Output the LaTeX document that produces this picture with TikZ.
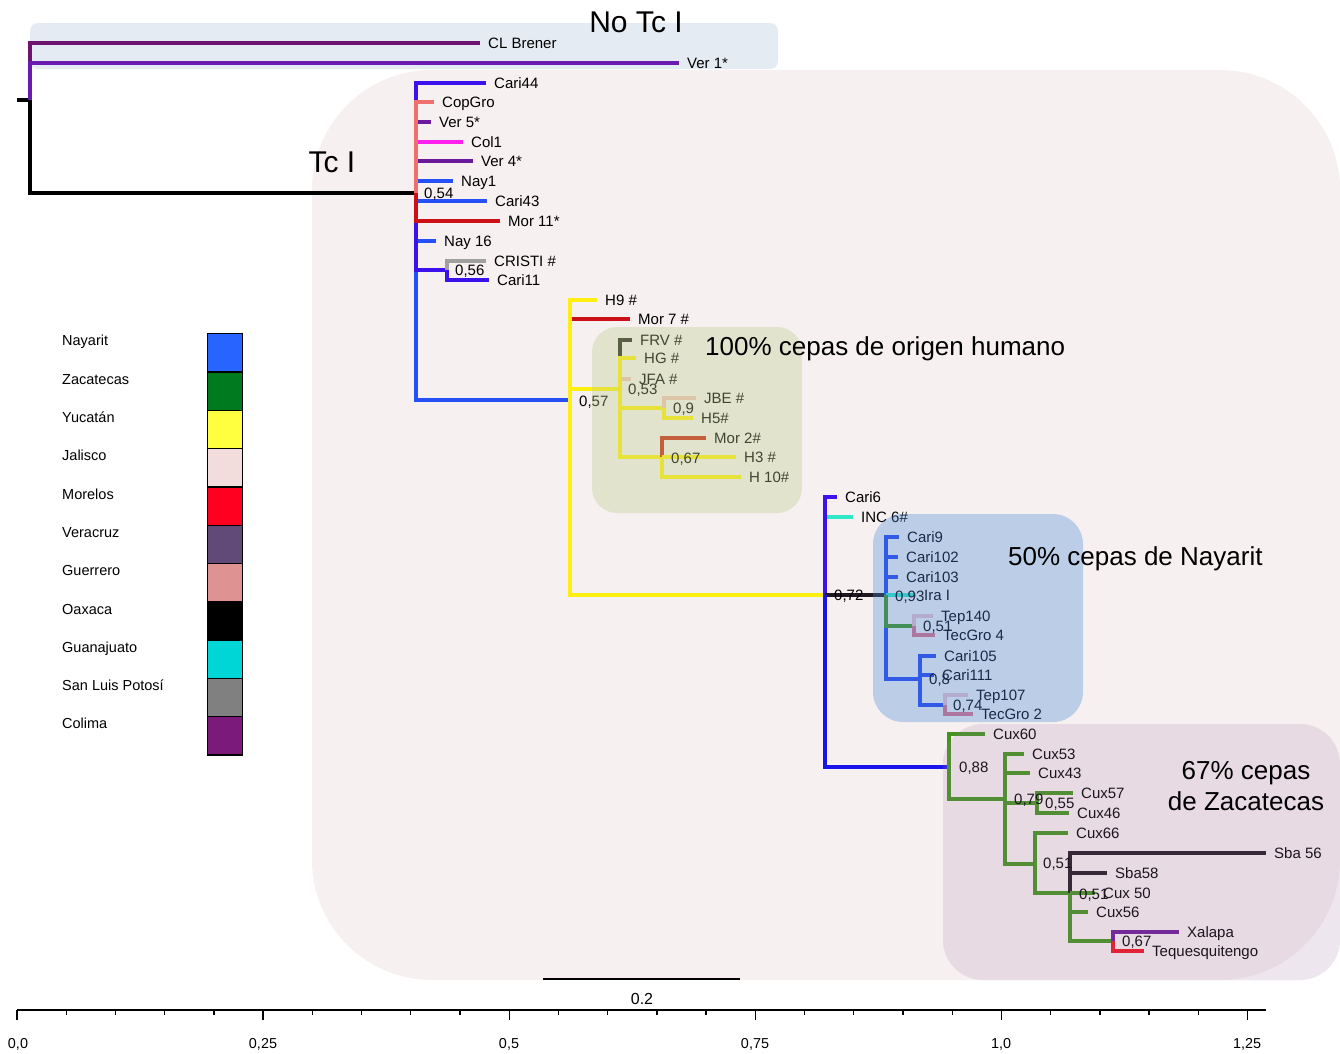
\documentclass[tikz,border=0pt]{standalone}
\usepackage{fontspec}
\setmainfont{Liberation Sans}
\definecolor{bgpink}{RGB}{247,240,240}
\definecolor{notcbox}{RGB}{229,235,243}
\definecolor{cbluev}{RGB}{58,18,238}
\definecolor{cblue}{RGB}{36,80,245}
\definecolor{cblueD}{RGB}{26,20,236}
\definecolor{csalmon}{RGB}{240,112,112}
\definecolor{cpurple}{RGB}{106,26,154}
\definecolor{cclb}{RGB}{110,20,112}
\definecolor{cver}{RGB}{106,28,176}
\definecolor{cmagenta}{RGB}{255,32,240}
\definecolor{cred}{RGB}{204,16,24}
\definecolor{cgray}{RGB}{160,160,160}
\definecolor{cyellow}{RGB}{255,238,16}
\definecolor{cdark}{RGB}{40,40,32}
\definecolor{cpale}{RGB}{240,196,184}
\definecolor{cbrick}{RGB}{200,40,20}
\definecolor{cturq}{RGB}{48,232,200}
\definecolor{cnblue}{RGB}{40,70,240}
\definecolor{cgreen}{RGB}{66,148,28}
\definecolor{cpaleb}{RGB}{236,190,200}
\definecolor{cguer}{RGB}{224,110,130}
\definecolor{cblack}{RGB}{32,24,32}
\definecolor{cbright}{RGB}{240,16,32}
% overlay tints for the highlighted groups
\definecolor{ovgreen}{RGB}{186,204,137}
\definecolor{ovblue}{RGB}{70,135,215}
\definecolor{ovpurple}{RGB}{160,120,165}
% key colours
\definecolor{kNay}{RGB}{40,100,255}
\definecolor{kZac}{RGB}{0,122,30}
\definecolor{kYuc}{RGB}{255,255,64}
\definecolor{kJal}{RGB}{242,220,220}
\definecolor{kMor}{RGB}{255,0,32}
\definecolor{kVer}{RGB}{98,74,120}
\definecolor{kGue}{RGB}{222,146,146}
\definecolor{kOax}{RGB}{0,0,0}
\definecolor{kGua}{RGB}{0,214,214}
\definecolor{kSlp}{RGB}{128,128,128}
\definecolor{kCol}{RGB}{124,26,124}
\tikzset{
  br/.style={line width=3.4pt, line join=miter, line cap=butt},
  leaf/.style={anchor=west, inner xsep=8pt, inner ysep=0pt, text height=10.74pt, text depth=0pt,
    font=\fontsize{15}{18}\selectfont},
  suplbl/.style={anchor=west, inner sep=0pt, text height=10.74pt, text depth=0pt,
    font=\fontsize{15}{18}\selectfont},
  bigtxt/.style={inner sep=0pt, text height=18.6pt, text depth=0pt, font=\fontsize{26}{30}\selectfont},
  cladetxt/.style={inner sep=0pt, text height=21.5pt, text depth=0pt, font=\fontsize{30}{34}\selectfont},
  keytxt/.style={anchor=west, inner sep=0pt, text height=10.4pt, text depth=0pt, font=\fontsize{14.5}{17}\selectfont},
  keybox/.style={draw=black, line width=1.4pt, minimum width=35pt, minimum height=38.3pt, inner sep=0pt, anchor=north west},
  axistxt/.style={inner sep=0pt, text height=10.3pt, text depth=0pt, font=\fontsize{14.4}{16}\selectfont},
}
\newcommand\edge[3]{\draw[br,#1] (#2) |- (#3);}
\begin{document}
\begin{tikzpicture}[x=1pt,y=-1pt]
\useasboundingbox (0,0) rectangle (1340,1053);
\fill[white] (0,0) rectangle (1340,1053);

% backgrounds
\fill[bgpink, rounded corners=120pt] (312,70) rectangle (1340,980);
\fill[notcbox, rounded corners=8pt] (30,23) rectangle (778,69);

% internal nodes
\coordinate (stub) at (17,100);
\coordinate (root) at (30,100);
\coordinate (A) at (416,193);
\coordinate (cri) at (447,270);
\coordinate (B) at (570,400);
\coordinate (C) at (620,389);
\coordinate (E) at (664,408);
\coordinate (F) at (662,457);
\coordinate (D) at (825,595);
\coordinate (G) at (886,595);
\coordinate (I) at (914,626);
\coordinate (J) at (920,679);
\coordinate (K) at (945,705);
\coordinate (H) at (949,767);
\coordinate (L) at (1005,799);
\coordinate (M) at (1037,803);
\coordinate (N) at (1035,864);
\coordinate (O) at (1070,893);
\coordinate (P) at (1113,941);

% leaves
\node[leaf] (clb) at (480,43) {CL Brener};
\node[leaf] (ver1) at (679,63) {Ver 1*};
\node[leaf] (cari44) at (486,83) {Cari44};
\node[leaf] (copgro) at (434,102) {CopGro};
\node[leaf] (ver5) at (431,122) {Ver 5*};
\node[leaf] (col1) at (463,142) {Col1};
\node[leaf] (ver4) at (473,161) {Ver 4*};
\node[leaf] (nay1) at (453,181) {Nay1};
\node[leaf] (cari43) at (487,201) {Cari43};
\node[leaf] (mor11) at (500,221) {Mor 11*};
\node[leaf] (nay16) at (436,241) {Nay 16};
\node[leaf] (cristi) at (486,261) {CRISTI \#};
\node[leaf] (cari11) at (489,280) {Cari11};
\node[leaf] (h9) at (597,300) {H9 \#};
\node[leaf] (mor7) at (630,319) {Mor 7 \#};
\node[leaf] (frv) at (632,340) {FRV \#};
\node[leaf] (hg) at (636,358) {HG \#};
\node[leaf] (jfa) at (631,379) {JFA \#};
\node[leaf] (jbe) at (696,398) {JBE \#};
\node[leaf] (h5) at (693,418) {H5\#};
\node[leaf] (mor2) at (706,438) {Mor 2\#};
\node[leaf] (h3) at (736,457) {H3 \#};
\node[leaf] (h10) at (741,477) {H 10\#};
\node[leaf] (cari6) at (837,497) {Cari6};
\node[leaf] (inc6) at (853,517) {INC 6\#};
\node[leaf] (cari9) at (899,537) {Cari9};
\node[leaf] (cari102) at (898,557) {Cari102};
\node[leaf] (cari103) at (898,577) {Cari103};
\node[leaf] (ira) at (916,595) {Ira I};
\node[leaf] (tep140) at (933,616) {Tep140};
\node[leaf] (tecgro4) at (935,635) {TecGro 4};
\node[leaf] (cari105) at (936,656) {Cari105};
\node[leaf] (cari111) at (934,675) {Cari111};
\node[leaf] (tep107) at (968,695) {Tep107};
\node[leaf] (tecgro2) at (973,714) {TecGro 2};
\node[leaf] (cux60) at (985,734) {Cux60};
\node[leaf] (cux53) at (1024,754) {Cux53};
\node[leaf] (cux43) at (1030,773) {Cux43};
\node[leaf] (cux57) at (1073,793) {Cux57};
\node[leaf] (cux46) at (1069,813) {Cux46};
\node[leaf] (cux66) at (1068,833) {Cux66};
\node[leaf] (sba56) at (1266,853) {Sba 56};
\node[leaf] (sba58) at (1107,873) {Sba58};
\node[leaf] (cux50) at (1095,893) {Cux 50};
\node[leaf] (cux56) at (1088,912) {Cux56};
\node[leaf] (xalapa) at (1179,932) {Xalapa};
\node[leaf] (teques) at (1144,951) {Tequesquitengo};

% branches
\draw[br,black] (stub) -- (root);
\edge{cclb}{root}{clb.west}
\edge{cver}{root}{ver1.west}
\edge{black}{root}{A}

\edge{cpurple}{A}{ver5.west}
\edge{cmagenta}{A}{col1.west}
\edge{cpurple}{A}{ver4.west}
\edge{cblue}{A}{nay1.west}
\edge{cblue}{A}{cari43.west}
\edge{cbluev}{A}{cari44.west}
\edge{csalmon}{A}{copgro.west}
\edge{cblue}{A}{nay16.west}
\edge{cblue}{A}{B}
\edge{cbluev}{A}{cri}
\edge{cred}{A}{mor11.west}
\edge{cgray}{cri}{cristi.west}
\edge{cbluev}{cri}{cari11.west}

\edge{cred}{B}{mor7.west}
\edge{cyellow}{B}{h9.west}
\edge{cyellow}{B}{C}
\edge{cyellow}{B}{D}

\edge{cpale}{C}{jfa.west}
\edge{cdark}{C}{frv.west}
\edge{cyellow}{C}{hg.west}
\edge{cyellow}{C}{E}
\edge{cyellow}{C}{F}
\edge{cpale}{E}{jbe.west}
\edge{cyellow}{E}{h5.west}
\edge{cbrick}{F}{mor2.west}
\edge{cyellow}{F}{h3.west}
\edge{cyellow}{F}{h10.west}

\edge{cturq}{D}{inc6.west}
\edge{cbluev}{D}{cari6.west}
\edge{cblack}{D}{G}
\edge{cblueD}{D}{H}

\edge{cnblue}{G}{cari9.west}
\edge{cnblue}{G}{cari102.west}
\edge{cnblue}{G}{cari103.west}
\edge{cturq}{G}{ira.west}
\edge{cnblue}{G}{J}
\edge{cgreen}{G}{I}
\edge{cpaleb}{I}{tep140.west}
\edge{cguer}{I}{tecgro4.west}
\edge{cnblue}{J}{cari105.west}
\edge{cnblue}{J}{cari111.west}
\edge{cnblue}{J}{K}
\edge{cpaleb}{K}{tep107.west}
\edge{cguer}{K}{tecgro2.west}

\edge{cgreen}{H}{cux60.west}
\edge{cgreen}{H}{L}
\edge{cgreen}{L}{cux53.west}
\edge{cgreen}{L}{cux43.west}
\edge{cgreen}{L}{M}
\edge{cgreen}{L}{N}
\edge{cgreen}{M}{cux57.west}
\edge{cgreen}{M}{cux46.west}
\edge{cgreen}{N}{cux66.west}
\edge{cgreen}{N}{O}
\edge{cblack}{O}{sba56.west}
\edge{cblack}{O}{sba58.west}
\edge{cgreen}{O}{cux50.west}
\edge{cgreen}{O}{cux56.west}
\edge{cgreen}{O}{P}
\edge{cpurple}{P}{xalapa.west}
\edge{cbright}{P}{teques.west}

% support values
\node[suplbl] (sA) at (424,193) {0,54};
\node[suplbl] (scri) at (455,270) {0,56};
\node[suplbl] (sB) at (579,401) {0,57};
\node[suplbl] (sC) at (628,389) {0,53};
\node[suplbl] (sE) at (673,408) {0,9};
\node[suplbl] (sF) at (671,458) {0,67};
\node[suplbl] (sD) at (834,595) {0,72};
\node[suplbl] (sG) at (895,596) {0,93};
\node[suplbl] (sI) at (923,626) {0,51};
\node[suplbl] (sJ) at (929,679) {0,8};
\node[suplbl] (sK) at (953,705) {0,74};
\node[suplbl] (sH) at (959,767) {0,88};
\node[suplbl] (sL) at (1014,799) {0,79};
\node[suplbl] (sM) at (1045,803) {0,55};
\node[suplbl] (sN) at (1043,863) {0,51};
\node[suplbl] (sO) at (1079,894) {0,51};
\node[suplbl] (sP) at (1122,941) {0,67};

% highlighted groups
\fill[ovgreen, fill opacity=0.34, rounded corners=25pt] (592,327) rectangle (802,513);
\fill[ovblue, fill opacity=0.33, rounded corners=30pt] (873,514) rectangle (1083,722);
\fill[ovpurple, fill opacity=0.18, rounded corners=40pt] (943,724) rectangle (1340,980);

\node[cladetxt] (notc) at (636,22) {No Tc I};
\node[cladetxt] (tci) at (332,162) {Tc I};
\node[bigtxt, anchor=west] (hum) at (705,346) {100\% cepas de origen humano};
\node[bigtxt, anchor=west] (nay) at (1008,556) {50\% cepas de Nayarit};
\node[bigtxt] (zac1) at (1246,770) {67\% cepas};
\node[bigtxt] (zac2) at (1246,801) {de Zacatecas};

% key
\foreach \nm/\cl [count=\i from 0] in {Nayarit/kNay, Zacatecas/kZac, Yucatán/kYuc, Jalisco/kJal,
    Morelos/kMor, Veracruz/kVer, Guerrero/kGue, Oaxaca/kOax, Guanajuato/kGua,
    San Luis Potosí/kSlp, Colima/kCol}{
  \node[keytxt] (keyname\i) at (62,340.7+38.3*\i) {\nm};
  \node[keybox, fill=\cl] (keybox\i) at (207,333+38.3*\i) {};
}

% scale bar
\coordinate (sb0) at (543,979);
\coordinate (sb1) at (740,979);
\draw[line width=1.5pt] (sb0) -- (sb1);
\node[inner sep=0pt, text height=11.5pt, text depth=0pt, font=\fontsize{16}{18}\selectfont] (sblbl) at (642,999) {0.2};

% distance axis
\coordinate (ax0) at (17,1010);
\coordinate (ax1) at (1266,1010);
\draw[line width=1.5pt] (ax0) -- (ax1);
\foreach \k in {0,...,25}{
  \draw[line width=1.3pt] (17+49.22*\k,1010) -- ++(0,5);
}
\foreach \k in {0,...,5}{
  \draw[line width=1.3pt] (17+246.1*\k,1010) -- ++(0,10);
}
\node[axistxt] (ax00) at (18,1043) {0,0};
\node[axistxt] (ax25) at (263,1043) {0,25};
\node[axistxt] (ax50) at (509,1043) {0,5};
\node[axistxt] (ax75) at (755,1043) {0,75};
\node[axistxt] (ax100) at (1001,1043) {1,0};
\node[axistxt] (ax125) at (1247,1043) {1,25};
\end{tikzpicture}
\end{document}
